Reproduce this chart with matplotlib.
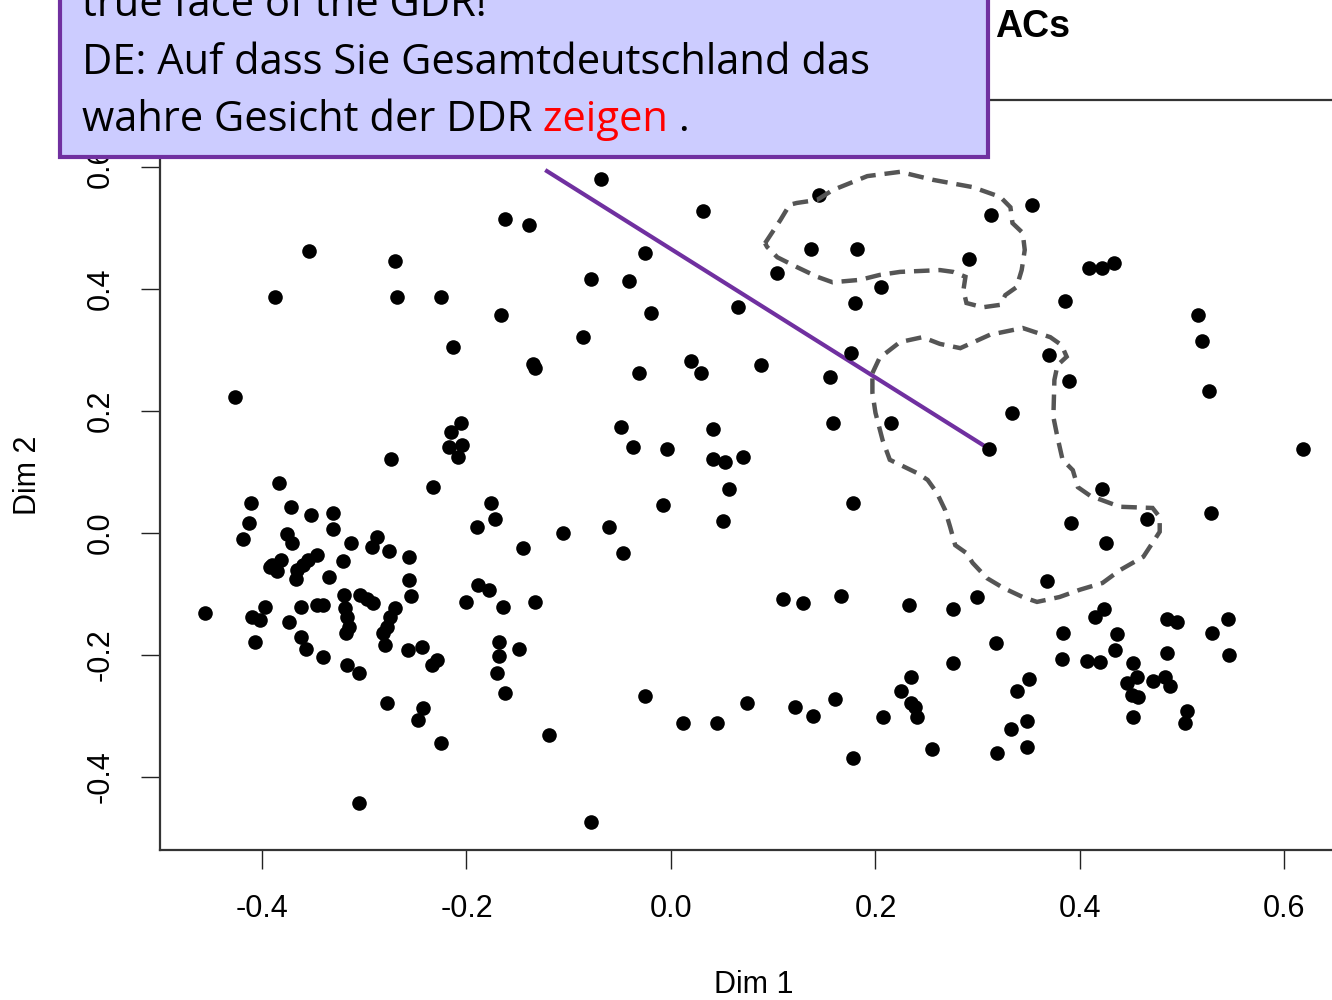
import matplotlib
matplotlib.use('Agg')
import matplotlib.pyplot as plt
from matplotlib.patches import Rectangle, Polygon

# individuals on the first two dimensions
dim1 = [
    -0.068, 0.031, 0.145, 0.353, 0.313, -0.162, -0.139, -0.354, 0.137, 0.182,
    -0.025, -0.270, 0.291, 0.409, 0.422, 0.433, 0.104, -0.078, -0.041, 0.205,
    -0.387, -0.268, -0.225, 0.180, 0.385, -0.166, -0.020, 0.066, 0.515, -0.086,
    0.519, -0.213, 0.176, 0.370, -0.135, -0.133, 0.020, 0.029, -0.031, 0.088,
    0.156, 0.389, 0.526, -0.426, 0.334, -0.205, -0.215, -0.217, -0.204, -0.208,
    -0.049, 0.041, 0.158, 0.215, -0.037, -0.004, 0.311, 0.618, 0.041, 0.053,
    0.070, -0.274,
    -0.383, -0.233, 0.057, 0.422, -0.411, -0.372, -0.352, -0.331, -0.176, -0.008,
    0.178, -0.413, -0.331, -0.172, 0.051, -0.190, -0.061, -0.106, 0.528, 0.391,
    0.466, 0.425, -0.419, -0.376, -0.371, -0.313, -0.288, -0.292, -0.276, -0.256,
    -0.145, -0.047, -0.390, -0.381, -0.385, -0.392, -0.346, -0.355, -0.360, -0.366,
    -0.367, -0.321, -0.334, -0.256, -0.254, 0.368, -0.189, -0.178, -0.320, -0.304,
    -0.297, -0.291, -0.200, -0.164, -0.133, 0.110, 0.129, 0.166, 0.233, 0.299,
    0.276, -0.456, -0.397, -0.410, -0.402, -0.362, -0.346, -0.340, -0.319, -0.317,
    -0.315, -0.318, -0.374, -0.270, -0.275, -0.278, -0.282, -0.280, 0.424, 0.415,
    0.485, 0.495, 0.545, 0.529, 0.383, 0.436, 0.434, -0.407, -0.362, -0.357,
    -0.340, -0.317, -0.305, -0.257, -0.244, -0.234, -0.229, -0.168, -0.168, -0.149,
    -0.170, -0.162, 0.318, 0.485, 0.546, 0.276, 0.382, 0.407, 0.420, 0.452,
    0.456, 0.446, 0.451, 0.457, 0.471, 0.483, 0.488, 0.350, 0.338, -0.025,
    -0.278, -0.243, -0.247, 0.012, 0.045, 0.074, 0.121, 0.139, 0.160, 0.207,
    0.225, 0.235, 0.235, 0.239, 0.241, 0.452, 0.505, 0.503, 0.348, 0.333,
    -0.119, -0.225, 0.348, 0.319, 0.255, 0.178, -0.305, -0.078,
]
dim2 = [
    0.580, 0.528, 0.554, 0.538, 0.521, 0.515, 0.505, 0.462, 0.465, 0.465,
    0.459, 0.446, 0.449, 0.434, 0.434, 0.443, 0.426, 0.416, 0.413, 0.403,
    0.387, 0.387, 0.387, 0.377, 0.380, 0.357, 0.361, 0.370, 0.357, 0.321,
    0.315, 0.305, 0.295, 0.292, 0.277, 0.270, 0.282, 0.262, 0.262, 0.275,
    0.256, 0.249, 0.233, 0.223, 0.197, 0.180, 0.166, 0.141, 0.144, 0.125,
    0.174, 0.170, 0.180, 0.180, 0.141, 0.138, 0.138, 0.138, 0.121, 0.116,
    0.125, 0.121,
    0.082, 0.075, 0.072, 0.072, 0.049, 0.043, 0.030, 0.033, 0.049, 0.046,
    0.049, 0.016, 0.007, 0.023, 0.020, 0.010, 0.010, 0.000, 0.033, 0.016,
    0.023, -0.016, -0.010, -0.002, -0.016, -0.016, -0.007, -0.023, -0.030, -0.039,
    -0.025, -0.033, -0.052, -0.044, -0.062, -0.056, -0.036, -0.044, -0.052, -0.061,
    -0.075, -0.046, -0.072, -0.077, -0.103, -0.079, -0.085, -0.093, -0.102, -0.102,
    -0.108, -0.115, -0.113, -0.121, -0.113, -0.108, -0.115, -0.103, -0.118, -0.105,
    -0.125, -0.131, -0.121, -0.138, -0.143, -0.121, -0.118, -0.118, -0.123, -0.138,
    -0.154, -0.164, -0.146, -0.123, -0.138, -0.154, -0.164, -0.184, -0.125, -0.138,
    -0.141, -0.146, -0.141, -0.164, -0.164, -0.166, -0.192, -0.179, -0.170, -0.190,
    -0.203, -0.216, -0.229, -0.192, -0.187, -0.216, -0.208, -0.179, -0.202, -0.190,
    -0.229, -0.262, -0.180, -0.197, -0.200, -0.213, -0.207, -0.210, -0.211, -0.213,
    -0.236, -0.246, -0.266, -0.269, -0.243, -0.236, -0.251, -0.239, -0.259, -0.267,
    -0.279, -0.287, -0.307, -0.311, -0.311, -0.279, -0.285, -0.300, -0.272, -0.302,
    -0.259, -0.236, -0.279, -0.285, -0.302, -0.302, -0.292, -0.311, -0.308, -0.321,
    -0.331, -0.344, -0.351, -0.361, -0.354, -0.369, -0.443, -0.474,
]

# hand-drawn outlines around two groups
group_a_x = [0.092, 0.107, 0.116, 0.123, 0.143, 0.158, 0.192, 0.224, 0.256, 0.295,
             0.322, 0.332, 0.334, 0.344, 0.346, 0.343, 0.338, 0.327, 0.322, 0.305,
             0.289, 0.286, 0.288, 0.276, 0.263, 0.224, 0.204, 0.185, 0.158, 0.143,
             0.123, 0.104, 0.094]
group_a_y = [0.475, 0.513, 0.538, 0.541, 0.546, 0.562, 0.585, 0.592, 0.579, 0.567,
             0.551, 0.534, 0.508, 0.492, 0.464, 0.431, 0.403, 0.390, 0.374, 0.370,
             0.377, 0.398, 0.420, 0.428, 0.431, 0.428, 0.423, 0.415, 0.411, 0.420,
             0.436, 0.452, 0.469]
group_b_x = [0.197, 0.204, 0.224, 0.246, 0.263, 0.283, 0.312, 0.344, 0.371, 0.382,
             0.387, 0.378, 0.375, 0.374, 0.378, 0.383, 0.393, 0.398, 0.410, 0.439,
             0.471, 0.478, 0.478, 0.471, 0.462, 0.439, 0.422, 0.400, 0.380, 0.358,
             0.344, 0.325, 0.309, 0.295, 0.289, 0.278, 0.273, 0.268, 0.260, 0.251,
             0.241, 0.214, 0.207, 0.200, 0.197]
group_b_y = [0.262, 0.287, 0.313, 0.321, 0.310, 0.303, 0.325, 0.336, 0.321, 0.308,
             0.289, 0.275, 0.251, 0.190, 0.157, 0.120, 0.103, 0.075, 0.061, 0.043,
             0.041, 0.026, 0.002, -0.016, -0.039, -0.061, -0.082, -0.093, -0.105, -0.113,
             -0.105, -0.090, -0.074, -0.049, -0.033, -0.020, 0.010, 0.038, 0.066, 0.087,
             0.098, 0.120, 0.152, 0.197, 0.230]

# callout pointer: from under the box down to one individual
pointer_x = [-0.123, 0.311]
pointer_y = [0.595, 0.138]

ticks = [-0.4, -0.2, 0.0, 0.2, 0.4, 0.6]
tick_labels = ['-0.4', '-0.2', '0.0', '0.2', '0.4', '0.6']

callout_lines = ['true face of the GDR!',
                 'DE: Auf dass Sie Gesamtdeutschland das',
                 'wahre Gesicht der DDR']
callout_word = 'zeigen'

purple = '#7030A0'

plt.rcParams['font.family'] = ['Liberation Sans', 'DejaVu Sans']

fig = plt.figure(figsize=(13.32, 10), dpi=100)
ax = fig.add_axes([0.1201, 0.15, 0.8911, 0.75])

ax.plot(dim1, dim2, 'o', color='black', ms=10.5, mew=0, zorder=3)
ax.plot(pointer_x, pointer_y, color=purple, lw=3, solid_capstyle='butt', zorder=2)

for gx, gy in [(group_a_x, group_a_y), (group_b_x, group_b_y)]:
    ax.add_patch(Polygon(list(zip(gx, gy)), closed=True, fill=False,
                         ec='#555555', lw=3.2, ls=(0, (3.5, 2)), zorder=4))

ax.set_xlim(-0.4998, 0.6611)
ax.set_ylim(-0.5197, 0.7098)
ax.set_xticks(ticks)
ax.set_xticklabels(tick_labels)
ax.set_yticks(ticks)
ax.set_yticklabels(tick_labels, rotation=90, va='center')
ax.tick_params(length=14, width=1, color='#222222', labelsize=22, pad=18)
for sp in ax.spines.values():
    sp.set_linewidth(1.6)
    sp.set_color('#333333')

ax.set_xlabel('Dim 1', fontsize=22, va='center')
ax.xaxis.set_label_coords(0.5, -0.18)
ax.set_ylabel('Dim 2', fontsize=22, va='center')
ax.yaxis.set_label_coords(-0.111, 0.5)

# overlay in pixel units for the callout box and title fragment
over = fig.add_axes([0, 0, 1, 1])
over.set_xlim(0, 1332)
over.set_ylim(1000, 0)
over.axis('off')

over.add_patch(Rectangle((60, -20), 928, 177, fc='#CCCCFF', ec=purple, lw=3))
box_font = dict(family=['Open Sans', 'DejaVu Sans'], fontsize=30)
over.text(82, 16, callout_lines[0], va='baseline', **box_font)
over.text(82, 74, callout_lines[1], va='baseline', **box_font)
t3 = over.text(82, 131, callout_lines[2], va='baseline', **box_font)
t4 = over.annotate(' ' + callout_word, xy=(1, 0), xycoords=t3, va='bottom',
                   color='red', **box_font)
over.annotate(' .', xy=(1, 0), xycoords=t4, va='bottom', **box_font)

over.text(995, 37, 'ACs', fontsize=27, fontweight='bold', va='baseline')

fig.savefig('out.png', dpi=100)
